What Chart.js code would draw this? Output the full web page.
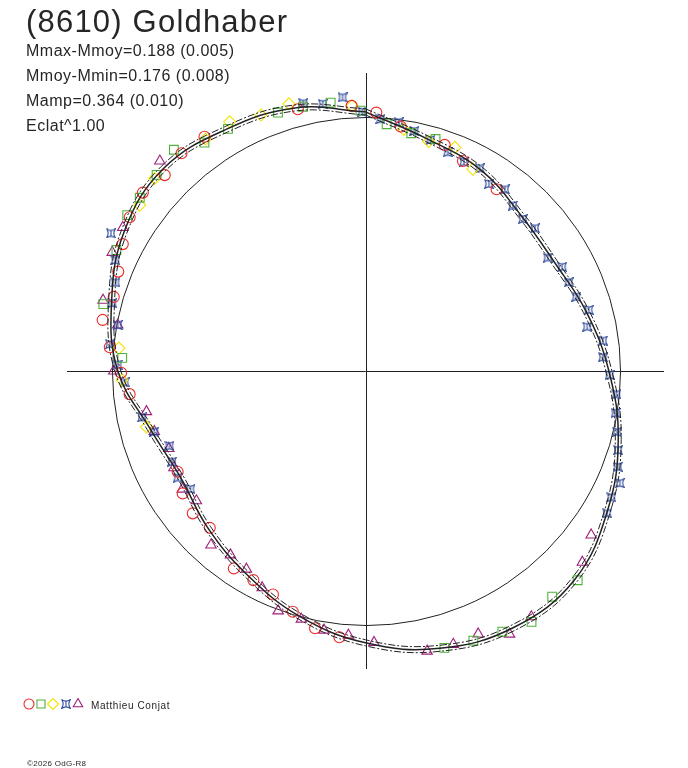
<!DOCTYPE html>
<html>
<head>
<meta charset="utf-8">
<script src="https://cdn.jsdelivr.net/npm/chart.js@4.4.1/dist/chart.umd.min.js"></script>
<style>
html, body { margin: 0; padding: 0; background: #fff; }
canvas { display: block; }
</style>
</head>
<body>
<canvas id="chart" width="688" height="768"></canvas>
<script>
// polar light curve: angle = rotation phase (deg, clockwise from top), radius = relative flux
var titleText = '(8610) Goldhaber';
var statLines = ['Mmax-Mmoy=0.188 (0.005)', 'Mmoy-Mmin=0.176 (0.008)', 'Mamp=0.364 (0.010)', 'Eclat^1.00'];
var observer = 'Matthieu Conjat';
var credit = '\u00a92026 OdG-R8';

var refRadius = 1;
var curveErr = 0.012;

// fitted curve, read every 15 degrees
var curveAngle = [0, 15, 30, 45, 60, 75, 90, 105, 120, 135, 150, 165, 180, 195, 210, 225, 240, 255, 270, 285, 300, 315, 330, 345];
var curveFlux = [1.020, 0.945, 0.912, 0.866, 0.858, 0.900, 0.958, 1.030, 1.100, 1.163, 1.166, 1.130, 1.070, 1.000, 0.928, 0.876, 0.840, 0.878, 0.975, 1.035, 1.097, 1.126, 1.098, 1.072];

// observations [angle, flux] per session
var red = [[2.4,1.018],[8.2,0.972],[19.3,0.943],[24.9,0.911],[35.8,0.882],
  [185.6,1.053],[191.1,1.032],[196.8,0.990],[202.5,0.952],[208.2,0.934],[213.7,0.934],[224.8,0.870],[230.5,0.881],[236.2,0.866],[241.8,0.839],
  [264.4,0.933],[269.6,0.962],[275.3,1.011],[281.0,1.054],[286.4,1.033],[291.9,1.049],[297.6,1.078],[303.1,1.108],[308.7,1.123],
  [314.3,1.104],[319.8,1.122],[325.5,1.119],[345.5,1.064],[357.0,1.045]];
var green = [[4.9,0.975],[10.9,0.953],[16.8,0.954],[134.6,1.173],[140.4,1.153],[146.5,1.184],[152.3,1.159],[158.2,1.143],[164.1,1.133],
  [273.1,0.959],[284.3,1.065],[295.9,1.090],[303.2,1.121],[307.5,1.120],[313.2,1.128],[319.1,1.152],[324.8,1.100],[330.4,1.096],
  [341.3,1.074],[346.7,1.069],[352.6,1.065],[358.9,1.025]];
var yellow = [[9.0,0.963],[15.4,0.937],[21.8,0.948],[28.0,0.900],[255.7,0.890],[267.9,0.959],[275.3,0.975],[306.3,1.103],
  [312.4,1.124],[325.4,1.109],[331.4,1.117],[337.8,1.088],[344.0,1.094],[357.1,1.045]];
var blue = [[3.4,0.993],[7.6,0.988],[11.5,0.964],[15.7,0.945],[20.6,0.920],[25.2,0.910],[29.4,0.916],[33.4,0.882],[37.5,0.901],
  [41.7,0.872],[46.0,0.861],[49.9,0.872],[58.1,0.845],[62.1,0.876],[66.4,0.873],[70.6,0.880],[74.7,0.911],[78.7,0.890],[82.7,0.942],
  [86.7,0.936],[90.9,0.961],[95.3,0.992],[99.5,0.998],[103.6,1.019],[107.4,1.042],[110.8,1.062],[113.8,1.094],[117.2,1.088],[120.5,1.104],
  [236.0,0.831],[240.4,0.850],[244.9,0.841],[249.1,0.826],[254.0,0.865],[258.3,0.898],[267.3,0.949],[271.5,0.976],[276.0,1.012],
  [280.5,0.992],[285.0,1.032],[289.5,1.044],[293.9,1.077],[298.4,1.139],[346.9,1.082],[350.9,1.065],[355.2,1.081],[359.3,1.021]];
var purple = [[126.0,1.098],[131.4,1.138],[146.0,1.167],[151.3,1.181],[156.8,1.126],[162.2,1.130],[167.6,1.129],[178.2,1.069],
  [183.7,1.042],[189.1,1.033],[194.5,1.009],[200.0,1.005],[205.5,0.945],[211.0,0.910],[216.3,0.898],[221.6,0.916],[232.5,0.839],
  [237.2,0.858],[243.2,0.845],[248.5,0.832],[254.0,0.865],[259.5,0.877],[270.0,0.991],[280.5,0.992],[285.1,1.070],[295.1,1.101],
  [300.6,1.110],[315.6,1.157]];

var toXY = function(a, r) {
  var t = a * Math.PI / 180;
  return {x: r * Math.sin(t), y: r * Math.cos(t)};
};
var pairsToXY = function(list) {
  return list.map(function(p) { return toXY(p[0], p[1]); });
};
function curveXY(offset) {
  var pts = curveAngle.map(function(a, i) { return toXY(a, curveFlux[i] + offset); });
  pts.push(pts[0]);
  return pts;
}

function makeStar(color) {
  var c = document.createElement('canvas');
  c.width = 10; c.height = 10;
  var g = c.getContext('2d');
  g.strokeStyle = color;
  g.lineWidth = 1.1;
  g.beginPath();
  g.moveTo(0.5, 0.5);
  g.quadraticCurveTo(5, 3.8, 9.5, 0.5);
  g.quadraticCurveTo(6.2, 5, 9.5, 9.5);
  g.quadraticCurveTo(5, 6.2, 0.5, 9.5);
  g.quadraticCurveTo(3.8, 5, 0.5, 0.5);
  g.moveTo(5, 2.5); g.lineTo(5, 7.5);
  g.stroke();
  return c;
}

var series = [
  {data: red, color: '#ee2a2a', style: 'circle', radius: 5.5},
  {data: green, color: '#4fb33a', style: 'rect', radius: 6.2},
  {data: yellow, color: '#f2e400', style: 'rectRot', radius: 6},
  {data: blue, color: '#2f4a9e', style: makeStar('#2f4a9e'), radius: 5},
  {data: purple, color: '#a01f7a', style: 'triangle', radius: 6}
];

var datasets = series.map(function(s) {
  return {
    data: pairsToXY(s.data),
    pointStyle: s.style,
    pointRadius: s.radius,
    borderColor: s.color,
    backgroundColor: 'rgba(0,0,0,0)',
    pointBorderWidth: 1.1,
    showLine: false,
    order: 2
  };
});

var curveStyle = function(d, dash, w) {
  return {
    data: d,
    showLine: true,
    pointRadius: 0,
    borderColor: '#222',
    borderWidth: w,
    borderDash: dash,
    tension: 0.4,
    fill: false,
    order: 1
  };
};
datasets.push(curveStyle(curveXY(curveErr), [7, 2, 2, 2], 1));
datasets.push(curveStyle(curveXY(-curveErr), [7, 2, 2, 2], 1));
datasets.push(curveStyle(curveXY(0), [], 1.5));

var polarGuides = {
  id: 'polarGuides',
  beforeDatasetsDraw: function(chart) {
    var ctx = chart.ctx, a = chart.chartArea;
    var x = chart.scales.x, y = chart.scales.y;
    var cx = Math.round(x.getPixelForValue(0)) + 0.5;
    var cy = Math.round(y.getPixelForValue(0)) + 0.5;
    ctx.save();
    ctx.strokeStyle = '#222';
    ctx.lineWidth = 1;
    ctx.beginPath();
    ctx.moveTo(a.left, cy); ctx.lineTo(a.right, cy);
    ctx.moveTo(cx, a.top); ctx.lineTo(cx, a.bottom);
    ctx.stroke();
    var rp = x.getPixelForValue(refRadius) - x.getPixelForValue(0);
    ctx.beginPath();
    ctx.arc(cx, cy, rp, 0, Math.PI * 2);
    ctx.stroke();
    ctx.restore();
  },
  afterDraw: function(chart) {
    var ctx = chart.ctx;
    ctx.save();
    ctx.fillStyle = '#262626';
    ctx.textBaseline = 'alphabetic';
    ctx.font = '31px "Liberation Sans", Arial, sans-serif';
    ctx.letterSpacing = '1.2px';
    ctx.fillText(titleText, 26, 32);
    ctx.font = '16px "Liberation Sans", Arial, sans-serif';
    ctx.letterSpacing = '0.5px';
    statLines.forEach(function(t, i) {
      ctx.fillText(t, 26, 56 + i * 25);
    });

    // legend symbols
    var lx = [29, 41, 53, 66, 78];
    series.forEach(function(s, i) {
      ctx.strokeStyle = s.color;
      ctx.fillStyle = 'rgba(0,0,0,0)';
      ctx.lineWidth = 1.1;
      Chart.helpers.drawPoint(ctx, {pointStyle: s.style, radius: s.radius - 0.5, rotation: 0, borderWidth: 1.1}, lx[i], 704);
    });
    ctx.fillStyle = '#262626';
    ctx.font = '10px "Liberation Sans", Arial, sans-serif';
    ctx.letterSpacing = '0.6px';
    ctx.fillText(observer, 91, 709);
    ctx.font = '8px "Liberation Sans", Arial, sans-serif';
    ctx.letterSpacing = '0.3px';
    ctx.fillText(credit, 27, 766);
    ctx.restore();
  }
};

var ctx = document.getElementById('chart').getContext('2d');
var chart = new Chart(ctx, {
  type: 'scatter',
  data: {datasets: datasets},
  options: {
    responsive: false,
    animation: false,
    events: [],
    layout: {padding: {left: 67, right: 24, top: 73, bottom: 99}},
    scales: {
      x: {display: false, min: -1.175, max: 1.175},
      y: {display: false, min: -1.173, max: 1.173}
    },
    plugins: {legend: {display: false}, tooltip: {enabled: false}},
    elements: {line: {capBezierPoints: false}},
    clip: false
  },
  plugins: [polarGuides]
});
</script>
</body>
</html>
